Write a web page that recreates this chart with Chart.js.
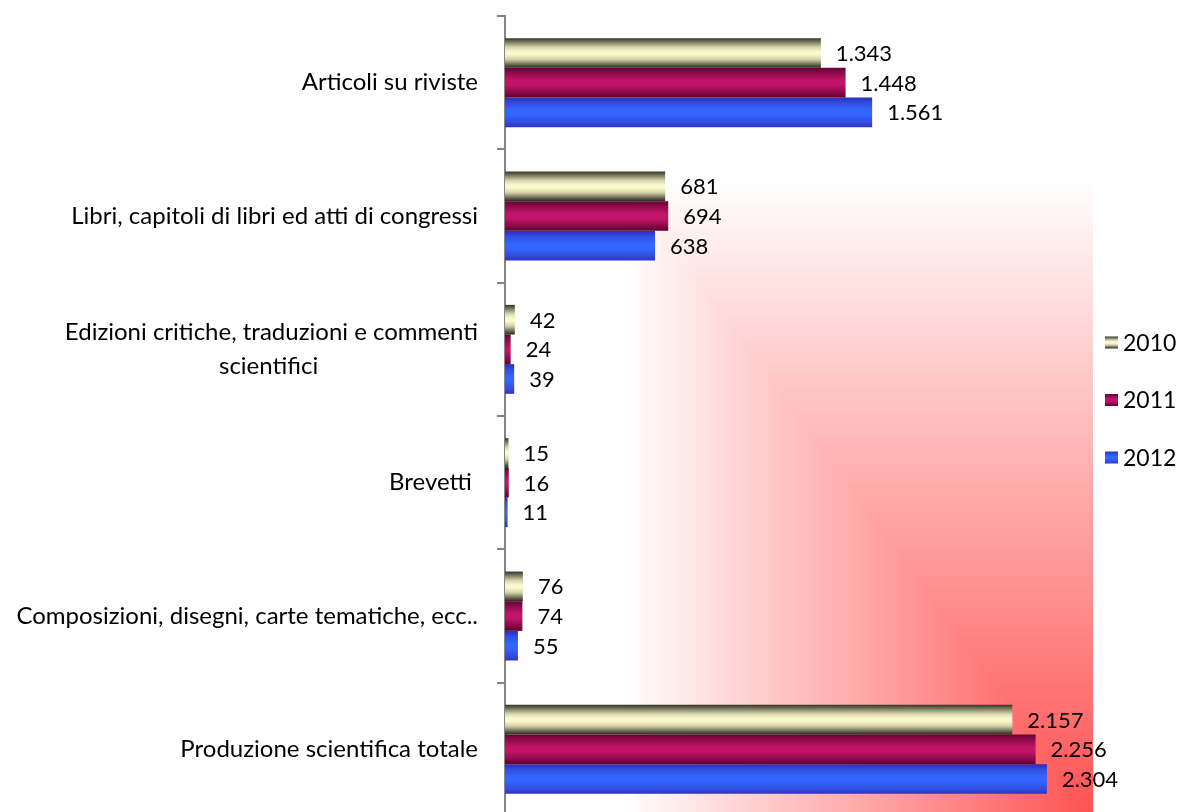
<!DOCTYPE html>
<html lang="it">
<head>
<meta charset="utf-8">
<title>Produzione scientifica 2010–2012</title>
<script src="https://cdn.jsdelivr.net/npm/chart.js@4.4.1/dist/chart.umd.min.js"></script>
<style>
  html, body { margin: 0; padding: 0; background: #fff; width: 1180px; height: 812px; overflow: hidden; }
  #wrap { position: relative; width: 1180px; height: 816px; }
</style>
</head>
<body>
<div id="wrap"><canvas id="chart"></canvas></div>
<script>
// Categories (top to bottom) and yearly counts
const categories = [
  'Articoli su riviste',
  'Libri, capitoli di libri ed atti di congressi',
  ['Edizioni critiche, traduzioni e commenti', 'scientifici'],
  'Brevetti ',
  'Composizioni, disegni, carte tematiche, ecc..',
  'Produzione scientifica totale'
];
const years = ['2010', '2011', '2012'];
const values2010 = [1343, 681, 42, 15, 76, 2157];
const values2011 = [1448, 694, 24, 16, 74, 2256];
const values2012 = [1561, 638, 39, 11, 55, 2304];
const axisMin = 0;
const axisMax = 2500;

const FONT_FAMILY = 'Lato, "Noto Sans", sans-serif';
const VALUE_SIZE = 22;
const CATEGORY_SIZE = 24;
const LEGEND_SIZE = 23;
const CATEGORY_PERCENT = 0.667;

// Cylinder-like shading across each bar's thickness
const shade2010 = [[0, '#35352a'], [0.12, '#747459'], [0.3, '#d4d3ad'], [0.45, '#fbf9cc'], [0.55, '#fbf9cc'], [0.72, '#cfcea6'], [0.88, '#6c6c54'], [1, '#28281e']];
const shade2011 = [[0, '#660032'], [0.15, '#880a47'], [0.42, '#c21468'], [0.58, '#c21468'], [0.85, '#860945'], [1, '#60002e']];
const shade2012 = [[0, '#2c2cbc'], [0.2, '#3050e2'], [0.42, '#3366ff'], [0.58, '#3366ff'], [0.82, '#3050e0'], [1, '#3232c4']];

function shadedFill(stops) {
  return (c) => {
    const chart = c.chart;
    const ys = chart.scales && chart.scales.y;
    if (c.type !== 'data' || !ys || !chart.chartArea) return stops[Math.floor(stops.length / 2)][1];
    const band = ys.height / categories.length;
    const group = band * CATEGORY_PERCENT;
    const thick = group / years.length;
    const top = ys.getPixelForValue(c.dataIndex) - group / 2 + thick * c.datasetIndex;
    const g = chart.ctx.createLinearGradient(0, top, 0, top + thick);
    stops.forEach(([o, col]) => g.addColorStop(o, col));
    return g;
  };
}

// Thousands separator with a dot
function formatCount(v) {
  return String(v).replace(/\B(?=(\d{3})+(?!\d))/g, '.');
}

// Plot-area fill: white at the top-left fading to red in the bottom-right corner
const plotBackground = {
  id: 'plotBackground',
  beforeDatasetsDraw(chart) {
    const { ctx, chartArea: a } = chart;
    const W = a.right - a.left, H = a.bottom - a.top;
    const tMax = 0.8, steps = 200;
    const from = [255, 255, 255], to = [255, 82, 82];
    ctx.save();
    ctx.beginPath();
    ctx.rect(a.left, a.top, W, H);
    ctx.clip();
    for (let i = 0; i <= steps; i++) {
      const t = tMax * (1 - i / steps);
      const k = 1 - t / tMax;
      const col = from.map((f, j) => Math.round(f + (to[j] - f) * k));
      ctx.fillStyle = `rgb(${col[0]},${col[1]},${col[2]})`;
      const w = Math.max(t * W, 1), h = Math.max(t * H, 1);
      ctx.fillRect(a.right - w, a.bottom - h, w, h);
    }
    ctx.restore();
  }
};

// Value labels to the right of every bar
const valueLabels = {
  id: 'valueLabels',
  afterDatasetsDraw(chart) {
    const { ctx } = chart;
    ctx.save();
    ctx.font = `${VALUE_SIZE}px ${FONT_FAMILY}`;
    ctx.fillStyle = '#000';
    ctx.textAlign = 'left';
    ctx.textBaseline = 'middle';
    chart.data.datasets.forEach((ds, di) => {
      chart.getDatasetMeta(di).data.forEach((el, i) => {
        ctx.fillText(formatCount(ds.data[i]), el.x + 15, el.y + 1);
      });
    });
    ctx.restore();
  }
};

// Legend column at the right of the plot
const sideLegend = {
  id: 'sideLegend',
  afterDraw(chart) {
    const { ctx, chartArea: a } = chart;
    const x = a.right + 12;
    const midY = (a.top + a.bottom) / 2 - 16;
    const gap = 57.5;
    ctx.save();
    ctx.font = `${LEGEND_SIZE}px ${FONT_FAMILY}`;
    ctx.textAlign = 'left';
    ctx.textBaseline = 'middle';
    chart.data.datasets.forEach((ds, i) => {
      const cy = midY + (i - (chart.data.datasets.length - 1) / 2) * gap;
      const g = ctx.createLinearGradient(0, cy - 6, 0, cy + 6);
      ds.shade.forEach(([o, col]) => g.addColorStop(o, col));
      ctx.fillStyle = g;
      ctx.fillRect(x, cy - 6, 13, 12);
      ctx.fillStyle = '#000';
      ctx.fillText(ds.label, x + 18, cy + 1);
    });
    ctx.restore();
  }
};

const seriesValues = [values2010, values2011, values2012];
const seriesShades = [shade2010, shade2011, shade2012];

new Chart(document.getElementById('chart'), {
  type: 'bar',
  data: {
    labels: categories,
    datasets: years.map((y, i) => ({
      label: y,
      data: seriesValues[i],
      shade: seriesShades[i],
      backgroundColor: shadedFill(seriesShades[i]),
      borderWidth: 0,
      categoryPercentage: CATEGORY_PERCENT,
      barPercentage: 1
    }))
  },
  options: {
    indexAxis: 'y',
    responsive: true,
    maintainAspectRatio: false,
    animation: false,
    events: [],
    layout: { padding: { top: 16, right: 87, bottom: 0, left: 0 } },
    plugins: {
      legend: { display: false },
      tooltip: { enabled: false }
    },
    scales: {
      x: { display: false, min: axisMin, max: axisMax },
      y: {
        afterFit(scale) {
          scale.width = 505;
          scale.paddingTop = 0;
          scale.paddingBottom = 0;
        },
        border: { display: true, color: '#868686', width: 2 },
        grid: { display: true, drawOnChartArea: false, drawTicks: true, tickLength: 8, color: '#868686', lineWidth: 2, offset: true },
        ticks: {
          color: '#000',
          padding: 19,
          font: { family: FONT_FAMILY, size: CATEGORY_SIZE, lineHeight: 1.42 },
          callback(value, index) {
            const label = categories[index];
            if (!Array.isArray(label)) return label;
            // centre the shorter lines under the longest one
            const ctx = this.ctx;
            ctx.save();
            ctx.font = `${CATEGORY_SIZE}px ${FONT_FAMILY}`;
            const widths = label.map((s) => ctx.measureText(s).width);
            const space = ctx.measureText('\u00A0').width;
            ctx.restore();
            const widest = Math.max(...widths);
            return label.map((s, k) => s + '\u00A0'.repeat(Math.round((widest - widths[k]) / 2 / space)));
          }
        }
      }
    }
  },
  plugins: [plotBackground, valueLabels, sideLegend]
});
</script>
</body>
</html>
